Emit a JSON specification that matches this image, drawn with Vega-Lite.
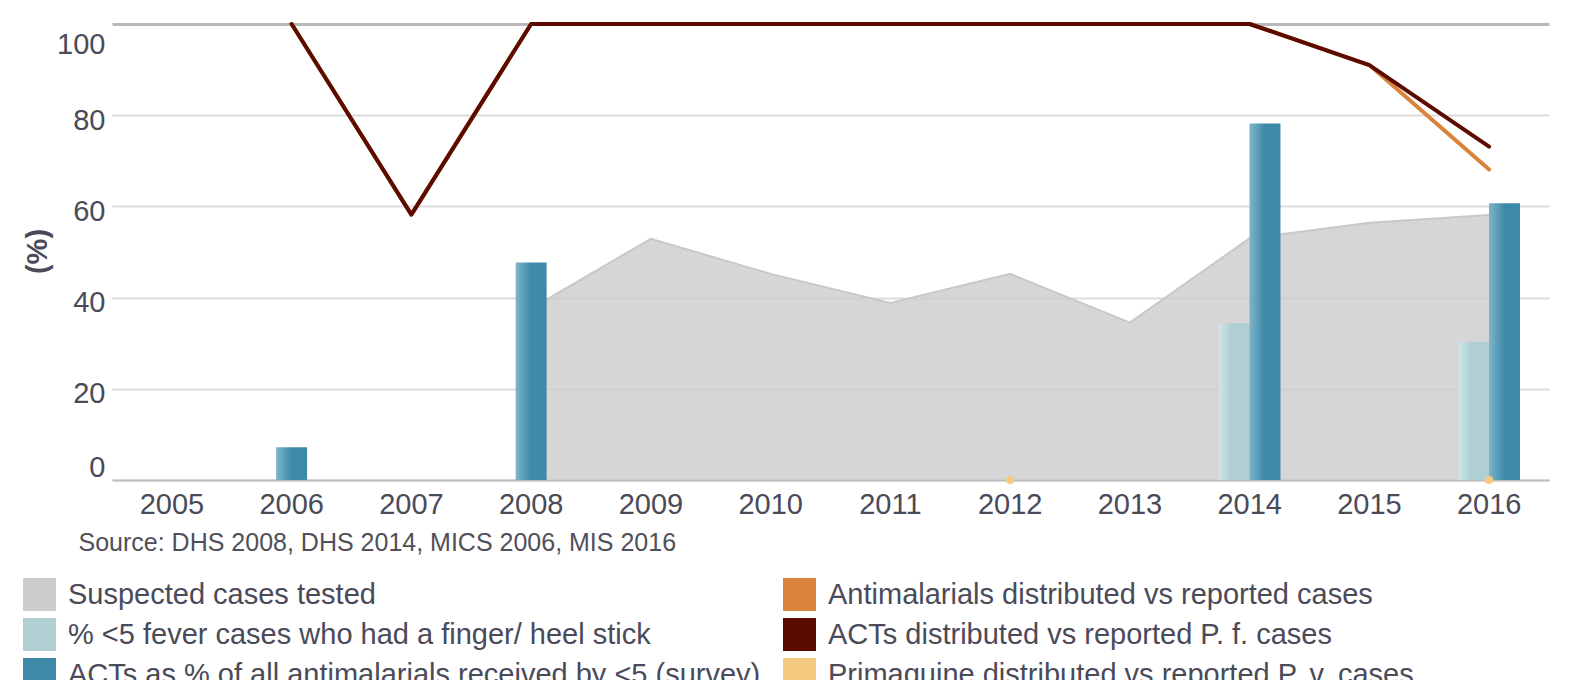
{
  "$schema": "https://vega.github.io/schema/vega-lite/v6.json",
  "width": 1437,
  "height": 456,
  "autosize": {"type": "none"},
  "padding": {"left": 112, "top": 24, "right": 31, "bottom": 200},
  "background": "white",
  "config": {
    "font": "Liberation Sans",
    "view": {"stroke": null},
    "legend": {
      "orient": "none",
      "title": null,
      "symbolType": "square",
      "symbolSize": 1089,
      "symbolStrokeWidth": 0,
      "symbolOpacity": 1,
      "labelFontSize": 29,
      "labelColor": "#4a4a58",
      "labelOffset": 12,
      "rowPadding": 7,
      "labelLimit": 0,
      "padding": 0,
      "offset": 0
    }
  },
  "datasets": {
    "area": [
      {"year": "2008", "series": "Suspected cases tested", "value": 37.6},
      {"year": "2009", "series": "Suspected cases tested", "value": 52.9},
      {"year": "2010", "series": "Suspected cases tested", "value": 45.2},
      {"year": "2011", "series": "Suspected cases tested", "value": 38.8},
      {"year": "2012", "series": "Suspected cases tested", "value": 45.2},
      {"year": "2013", "series": "Suspected cases tested", "value": 34.5},
      {"year": "2014", "series": "Suspected cases tested", "value": 53.0},
      {"year": "2015", "series": "Suspected cases tested", "value": 56.4},
      {"year": "2016", "series": "Suspected cases tested", "value": 58.1}
    ],
    "bars": [
      {"year": "2006", "series": "ACTs as % of all antimalarials received by <5 (survey)", "value": 7.2},
      {"year": "2008", "series": "ACTs as % of all antimalarials received by <5 (survey)", "value": 47.7},
      {"year": "2014", "series": "% <5 fever cases who had a finger/ heel stick", "value": 34.4},
      {"year": "2014", "series": "ACTs as % of all antimalarials received by <5 (survey)", "value": 78.2},
      {"year": "2016", "series": "% <5 fever cases who had a finger/ heel stick", "value": 30.3},
      {"year": "2016", "series": "ACTs as % of all antimalarials received by <5 (survey)", "value": 60.7}
    ],
    "lines": [
      {"year": "2006", "series": "Antimalarials distributed vs reported cases", "value": 100},
      {"year": "2007", "series": "Antimalarials distributed vs reported cases", "value": 58.2},
      {"year": "2008", "series": "Antimalarials distributed vs reported cases", "value": 100},
      {"year": "2009", "series": "Antimalarials distributed vs reported cases", "value": 100},
      {"year": "2010", "series": "Antimalarials distributed vs reported cases", "value": 100},
      {"year": "2011", "series": "Antimalarials distributed vs reported cases", "value": 100},
      {"year": "2012", "series": "Antimalarials distributed vs reported cases", "value": 100},
      {"year": "2013", "series": "Antimalarials distributed vs reported cases", "value": 100},
      {"year": "2014", "series": "Antimalarials distributed vs reported cases", "value": 100},
      {"year": "2015", "series": "Antimalarials distributed vs reported cases", "value": 91.0},
      {"year": "2016", "series": "Antimalarials distributed vs reported cases", "value": 68.1},
      {"year": "2006", "series": "ACTs distributed vs reported P. f. cases", "value": 100},
      {"year": "2007", "series": "ACTs distributed vs reported P. f. cases", "value": 58.2},
      {"year": "2008", "series": "ACTs distributed vs reported P. f. cases", "value": 100},
      {"year": "2009", "series": "ACTs distributed vs reported P. f. cases", "value": 100},
      {"year": "2010", "series": "ACTs distributed vs reported P. f. cases", "value": 100},
      {"year": "2011", "series": "ACTs distributed vs reported P. f. cases", "value": 100},
      {"year": "2012", "series": "ACTs distributed vs reported P. f. cases", "value": 100},
      {"year": "2013", "series": "ACTs distributed vs reported P. f. cases", "value": 100},
      {"year": "2014", "series": "ACTs distributed vs reported P. f. cases", "value": 100},
      {"year": "2015", "series": "ACTs distributed vs reported P. f. cases", "value": 91.0},
      {"year": "2016", "series": "ACTs distributed vs reported P. f. cases", "value": 73.1}
    ],
    "points": [
      {"year": "2012", "series": "Primaquine distributed vs reported P. v. cases", "value": 0},
      {"year": "2016", "series": "Primaquine distributed vs reported P. v. cases", "value": 0}
    ]
  },
  "encoding": {
    "x": {
      "field": "year",
      "type": "ordinal",
      "scale": {
        "type": "band",
        "domain": ["2005", "2006", "2007", "2008", "2009", "2010", "2011", "2012", "2013", "2014", "2015", "2016"],
        "paddingInner": 0,
        "paddingOuter": 0
      },
      "axis": {
        "title": "Source: DHS 2008, DHS 2014, MICS 2006, MIS 2016",
        "labelFontSize": 29,
        "labelColor": "#4a4a58",
        "labelPadding": 10,
        "labelAngle": 0,
        "ticks": false,
        "tickSize": 0,
        "grid": false,
        "domainColor": "#c0c0c0",
        "domainWidth": 2,
        "titleFontSize": 25,
        "titleFontWeight": "normal",
        "titleColor": "#50505a",
        "titleX": -34,
        "titleY": 70,
        "titleAlign": "left",
        "titleAnchor": "start",
        "titleBaseline": "alphabetic"
      }
    },
    "y": {
      "field": "value",
      "type": "quantitative",
      "scale": {"domain": [0, 100], "nice": false, "zero": true},
      "axis": {
        "title": "(%)",
        "values": [0, 20, 40, 60, 80, 100],
        "labelFontSize": 29,
        "labelColor": "#4a4a58",
        "labelPadding": 7,
        "labelBaseline": "middle",
        "labelOffset": {
          "condition": [
            {"test": "datum.value === 0", "value": -13},
            {"test": "datum.value === 100", "value": 20}
          ],
          "value": 5
        },
        "ticks": false,
        "tickSize": 0,
        "domain": false,
        "gridColor": {"condition": {"test": "datum.value === 100", "value": "#b9b9b9"}, "value": "#dcdcdc"},
        "gridWidth": {"condition": {"test": "datum.value === 100", "value": 3}, "value": 2},
        "titleFontSize": 29,
        "titleFontWeight": "bold",
        "titleColor": "#4a4a58",
        "titleX": -75,
        "titleY": 227,
        "titleAngle": 270,
        "titleAlign": "center",
        "titleBaseline": "middle"
      }
    }
  },
  "layer": [
    {
      "data": {"name": "area"},
      "mark": {"type": "area", "fillOpacity": 0.8},
      "encoding": {
        "fill": {
          "field": "series",
          "type": "nominal",
          "scale": {
            "domain": ["Suspected cases tested", "% <5 fever cases who had a finger/ heel stick", "ACTs as % of all antimalarials received by <5 (survey)"],
            "range": ["#cccccc", "#b0cfd2", "#3d89a8"]
          },
          "legend": {
            "legendX": -89,
            "legendY": 554,
            "encode": {"symbols": {"update": {"opacity": {"value": 1}, "fillOpacity": {"value": 1}}}}
          }
        }
      }
    },
    {
      "data": {"name": "area"},
      "mark": {"type": "line", "color": "#c8c8c8", "strokeWidth": 2},
      "encoding": {}
    },
    {
      "data": {"name": "bars"},
      "transform": [
        {"joinaggregate": [{"op": "count", "as": "n"}], "groupby": ["year"]},
        {"calculate": "datum.n === 1 ? 'M' : (datum.series === 'ACTs as % of all antimalarials received by <5 (survey)' ? 'R' : 'L')", "as": "slot"}
      ],
      "encoding": {
        "xOffset": {
          "field": "slot",
          "type": "nominal",
          "scale": {"domain": ["a", "b", "L", "M", "R", "c", "d"], "paddingInner": 0, "paddingOuter": 0.4}
        }
      },
      "layer": [
        {
          "transform": [{"filter": "datum.series === '% <5 fever cases who had a finger/ heel stick'"}],
          "mark": {
            "type": "bar",
            "width": 31,
            "strokeWidth": 0,
            "color": {
              "gradient": "linear", "x1": 0, "y1": 0, "x2": 1, "y2": 0,
              "stops": [
                {"offset": 0, "color": "#d0e5e7"},
                {"offset": 0.4, "color": "#b0cfd2"},
                {"offset": 1, "color": "#b0cfd2"}
              ]
            }
          }
        },
        {
          "transform": [{"filter": "datum.series === 'ACTs as % of all antimalarials received by <5 (survey)'"}],
          "mark": {
            "type": "bar",
            "width": 31,
            "strokeWidth": 0,
            "color": {
              "gradient": "linear", "x1": 0, "y1": 0, "x2": 1, "y2": 0,
              "stops": [
                {"offset": 0, "color": "#7fb5c9"},
                {"offset": 0.5, "color": "#3d89a8"},
                {"offset": 1, "color": "#3d89a8"}
              ]
            }
          }
        }
      ]
    },
    {
      "data": {"name": "lines"},
      "transform": [{"filter": "datum.series === 'Antimalarials distributed vs reported cases'"}],
      "mark": {"type": "line", "strokeWidth": 4, "strokeCap": "round", "strokeJoin": "round"},
      "encoding": {
        "stroke": {
          "field": "series",
          "type": "nominal",
          "scale": {
            "domain": ["Antimalarials distributed vs reported cases", "ACTs distributed vs reported P. f. cases", "Primaquine distributed vs reported P. v. cases"],
            "range": ["#d9843a", "#5c0b00", "#f5c97f"]
          },
          "legend": {
            "legendX": 671,
            "legendY": 554,
            "encode": {"symbols": {"update": {"fill": {"scale": "stroke", "field": "value"}, "fillOpacity": {"value": 1}, "opacity": {"value": 1}, "strokeWidth": {"value": 0}}}}
          }
        }
      }
    },
    {
      "data": {"name": "lines"},
      "transform": [{"filter": "datum.series === 'ACTs distributed vs reported P. f. cases'"}],
      "mark": {"type": "line", "strokeWidth": 4, "strokeCap": "round", "strokeJoin": "round"},
      "encoding": {
        "stroke": {"field": "series", "type": "nominal"}
      }
    },
    {
      "data": {"name": "points"},
      "mark": {"type": "point", "filled": true, "size": 64, "color": "#f5c97f", "opacity": 1, "strokeWidth": 0},
      "encoding": {}
    }
  ]
}
